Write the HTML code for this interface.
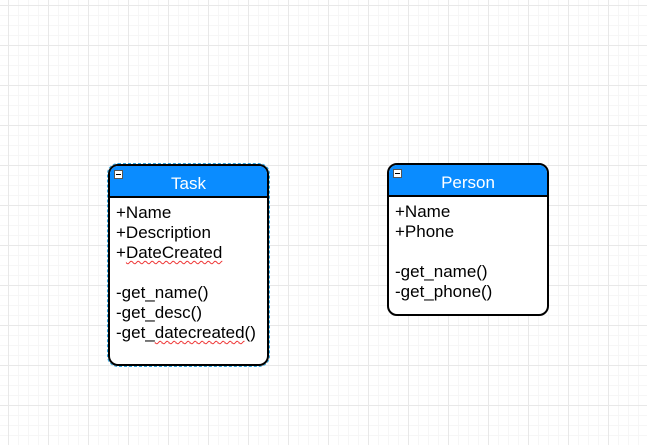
<!DOCTYPE html><html><head><style>
body{margin:0;width:647px;height:445px;overflow:hidden;background:#fff;font-family:"Liberation Sans",Arial,sans-serif;position:relative;
background-image:linear-gradient(90deg,#e8e8e8 1px,transparent 1px),linear-gradient(#e8e8e8 1px,transparent 1px),linear-gradient(90deg,#f6f6f6 1px,transparent 1px),linear-gradient(#f6f6f6 1px,transparent 1px);
background-size:40px 40px,40px 40px,10px 10px,10px 10px;background-position:8px 5px,8px 5px,8px 5px,8px 5px;}
.box{position:absolute;border:2px solid #000;border-radius:10px;background:#fff;overflow:hidden;box-sizing:border-box}
.hd{height:30px;background:#0a8cff;border-bottom:2px solid #000;color:#fff;font-size:17px;text-align:center;line-height:35px;position:relative}
.mn{position:absolute;left:4px;top:4px;width:7px;height:7px;background:#fff;border:1px solid #555;font-size:0}
.mn:after{content:"";position:absolute;left:1px;right:1px;top:3px;height:1px;background:#000}
.bd{padding:5px 0 0 6px;font-size:17px;line-height:20px;color:#000}
.u{text-decoration:underline wavy #e33;text-decoration-thickness:1px;text-underline-offset:2px}
</style></head><body>
<div class="box" style="left:108px;top:164px;width:161px;height:202px;outline:1px dashed #29a3e0">
<div class="hd"><span class="mn"></span>Task</div>
<div class="bd">+Name<br>+Description<br>+<span class="u">DateCreated</span><br><br>-get_name()<br>-get_desc()<br>-get_<span class="u">datecreated</span>()</div></div>
<div class="box" style="left:387px;top:163px;width:162px;height:153px">
<div class="hd"><span class="mn"></span>Person</div>
<div class="bd">+Name<br>+Phone<br><br>-get_name()<br>-get_phone()</div></div>
</body></html>
